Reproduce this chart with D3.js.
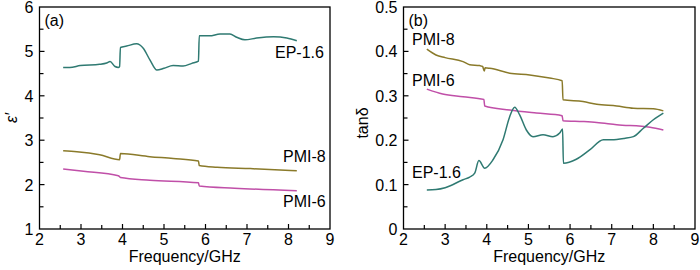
<!DOCTYPE html>
<html>
<head>
<meta charset="utf-8">
<script src="https://cdn.jsdelivr.net/npm/d3@7"></script>
<style>
  body { margin: 0; background: #fff; }
  svg { font-family: "Liberation Sans", Arial, sans-serif; }
  .frame { fill: none; stroke: #000; stroke-width: 1.3; }
  .tick-lbl { font-size: 16px; fill: #000; }
  .series { fill: none; stroke-width: 1.5; }
  .lbl { font-size: 16px; fill: #000; }
</style>
</head>
<body>
<svg id="viz-container" width="700" height="270"></svg>
<script>
// series data [frequency GHz, value]
var epPerm = [[2.57,4.64],[2.73,4.64],[2.98,4.68],[3.45,4.71],[3.62,4.74],[3.7,4.77],[3.82,4.66],[3.9,4.64],[3.93,4.66],[3.95,5.09],[4.1,5.12],[4.34,5.17],[4.5,5.07],[4.66,4.81],[4.83,4.58],[5.0,4.62],[5.22,4.68],[5.46,4.67],[5.67,4.73],[5.83,4.78],[5.85,5.35],[6.1,5.35],[6.35,5.39],[6.59,5.39],[6.75,5.32],[6.95,5.26],[7.23,5.3],[7.64,5.33],[7.96,5.3],[8.2,5.24]];
var pmi8Perm = [[2.57,2.76],[2.9,2.74],[3.45,2.67],[3.93,2.56],[3.95,2.70],[4.66,2.63],[5.22,2.59],[5.83,2.53],[5.85,2.43],[6.28,2.39],[7.08,2.36],[8.2,2.31]];
var pmi6Perm = [[2.57,2.35],[3.06,2.30],[3.9,2.2],[3.95,2.16],[4.66,2.10],[5.83,2.04],[5.85,1.97],[6.7,1.92],[8.2,1.86]];

var pmi8Tan = [[2.56,0.405],[2.78,0.392],[3.0,0.386],[3.43,0.377],[3.59,0.370],[3.83,0.368],[3.9,0.366],[3.94,0.356],[3.96,0.363],[4.07,0.362],[4.55,0.351],[5.03,0.347],[5.51,0.340],[5.81,0.334],[5.83,0.291],[6.31,0.287],[6.64,0.281],[7.12,0.277],[7.52,0.272],[8.0,0.271],[8.24,0.266]];
var pmi6Tan = [[2.56,0.315],[2.94,0.304],[3.43,0.298],[3.93,0.292],[3.95,0.277],[4.55,0.268],[5.19,0.261],[5.81,0.255],[5.83,0.244],[6.31,0.242],[6.64,0.240],[7.12,0.235],[7.92,0.229],[8.24,0.223]];
var epTan = [[2.56,0.088],[2.78,0.089],[3.0,0.093],[3.43,0.111],[3.59,0.117],[3.71,0.126],[3.81,0.154],[3.95,0.137],[4.15,0.156],[4.39,0.201],[4.55,0.253],[4.67,0.274],[4.79,0.257],[4.95,0.223],[5.11,0.208],[5.35,0.212],[5.59,0.208],[5.75,0.216],[5.82,0.225],[5.84,0.148],[6.15,0.157],[6.47,0.178],[6.8,0.201],[7.0,0.201],[7.3,0.204],[7.52,0.208],[7.76,0.227],[8.0,0.246],[8.24,0.261]];

var xTicks = [2,3,4,5,6,7,8,9];
var yTicksA = [1,2,3,4,5,6];
var yTicksB = [0,0.1,0.2,0.3,0.4,0.5];

var colEP = "#2f7a72", colP8 = "#8a7a2a", colP6 = "#c04fa8";

var svg = d3.select("#viz-container");

function panel(opt){
  var g = svg.append("g");
  var x = d3.scaleLinear().domain([2,9]).range([opt.left, opt.right]);
  var y = d3.scaleLinear().domain(opt.ydom).range([opt.bottom, opt.top]);

  // inward ticks on bottom and left (major + minor)
  g.append("g").selectAll("line")
    .data(d3.range(2.5,9,0.5))
   .enter().append("line")
    .attr("x1",d => x(d)).attr("x2",d => x(d))
    .attr("y1",opt.bottom).attr("y2",d => opt.bottom - (d%1===0 ? 5 : 4))
    .attr("stroke","#000").attr("stroke-width",1.2);
  var ystep = (opt.ydom[1]-opt.ydom[0])/10;
  g.append("g").selectAll("line")
    .data(d3.range(1,10).map(i => opt.ydom[0]+i*ystep))
   .enter().append("line")
    .attr("y1",d => y(d)).attr("y2",d => y(d))
    .attr("x1",opt.left).attr("x2",(d,i) => opt.left + (i%2===1 ? 5 : 4))
    .attr("stroke","#000").attr("stroke-width",1.2);

  g.append("rect").attr("class","frame")
    .attr("x",opt.left).attr("y",opt.top)
    .attr("width",opt.right-opt.left).attr("height",opt.bottom-opt.top);

  g.selectAll(".xl").data(xTicks).enter().append("text")
    .attr("class","tick-lbl").attr("text-anchor","middle")
    .attr("x",d => x(d)).attr("y",opt.bottom+16).text(d => d);
  g.selectAll(".yl").data(opt.yticks).enter().append("text")
    .attr("class","tick-lbl").attr("text-anchor","end")
    .attr("x",opt.left-6).attr("y",d => y(d)+6).text(opt.yfmt);

  var line = d3.line().x(d => x(d[0])).y(d => y(d[1])).curve(d3.curveMonotoneX);
  opt.series.forEach(function(s){
    g.append("path").attr("class","series").attr("d",line(s.data)).attr("stroke",s.color);
  });

  g.append("text").attr("class","lbl")
    .attr("x",(opt.left+opt.right)/2).attr("y",262).attr("text-anchor","middle")
    .text("Frequency/GHz");
  g.append("text").attr("class","lbl").attr("x",opt.left+5).attr("y",opt.top+19).text(opt.tag);
  opt.labels.forEach(function(l){
    g.append("text").attr("class","lbl").attr("x",l[1]).attr("y",l[2]).text(l[0]);
  });
  return g;
}

var ga = panel({left:39.5,right:330,top:7,bottom:229,ydom:[1,6],yticks:yTicksA,yfmt:d => d,
  series:[{data:epPerm,color:colEP},{data:pmi8Perm,color:colP8},{data:pmi6Perm,color:colP6}],
  tag:"(a)",labels:[["EP-1.6",275,58],["PMI-8",283,162],["PMI-6",283,207]]});
ga.append("text").attr("class","lbl").attr("font-style","italic")
  .attr("transform","translate(17,118) rotate(-90)").attr("text-anchor","middle").text("ε′");

var gb = panel({left:403.5,right:695,top:7,bottom:229,ydom:[0,0.5],yticks:yTicksB,
  yfmt:d => d===0 ? "0" : d3.format(".1f")(d),
  series:[{data:pmi8Tan,color:colP8},{data:pmi6Tan,color:colP6},{data:epTan,color:colEP}],
  tag:"(b)",labels:[["PMI-8",412,45],["PMI-6",412,86],["EP-1.6",412,178]]});
gb.append("text").attr("class","lbl")
  .attr("transform","translate(368,123) rotate(-90)").attr("text-anchor","middle").text("tanδ");
</script>
</body>
</html>
